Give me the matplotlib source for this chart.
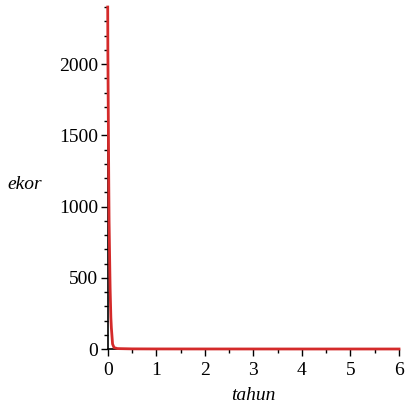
import numpy as np
import matplotlib.pyplot as plt
from matplotlib.ticker import MultipleLocator

# population (ekor) against time (tahun)
tahun = [0.0, 0.003, 0.022, 0.028, 0.045, 0.05, 0.065, 0.075, 0.1, 0.13, 0.2, 0.5, 1, 2, 3, 4, 5, 6]
ekor = [2400, 2100, 1150, 900, 520, 420, 220, 150, 35, 10, 3, 1, 0.5, 0.3, 0.2, 0.1, 0.1, 0.1]

xticks = [0, 1, 2, 3, 4, 5, 6]
yticks = [0, 500, 1000, 1500, 2000]

plt.rcParams['font.family'] = ['Liberation Serif', 'DejaVu Serif']

fig = plt.figure(figsize=(4.06, 4.04), dpi=100)
ax = fig.add_axes([0.2653, 0.1361, 0.7175, 0.8465])

ax.plot(tahun, ekor, color='#d42a2a', lw=2, zorder=5, clip_on=False)

ax.set_xlim(0, 6)
ax.set_ylim(0, 2400)
ax.set_xticks(xticks)
ax.set_yticks(yticks)
ax.xaxis.set_minor_locator(MultipleLocator(0.5))
ax.yaxis.set_minor_locator(MultipleLocator(100))

for s in ['top', 'right']:
    ax.spines[s].set_visible(False)
for s in ['left', 'bottom']:
    ax.spines[s].set_linewidth(1.2)
    ax.spines[s].set_zorder(4)

ax.tick_params(which='major', direction='out', length=5, width=1, labelsize=14, pad=2)
ax.tick_params(axis='x', which='major', pad=4)
ax.tick_params(which='minor', direction='out', length=3, width=1)

ax.set_xlabel('tahun', fontsize=14, style='italic', labelpad=6)
ax.set_ylabel('ekor', fontsize=14, style='italic', rotation=0, va='center', labelpad=0)
ax.yaxis.set_label_coords(-0.285, 0.48)

plt.savefig('out.png', dpi=100)
